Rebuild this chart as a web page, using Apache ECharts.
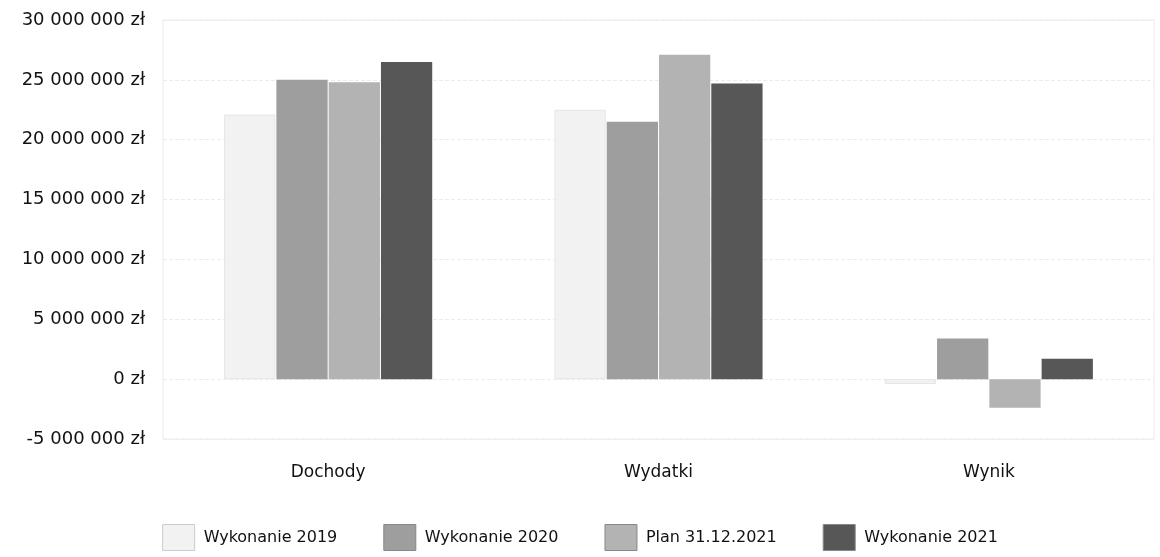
<!DOCTYPE html>
<html><head><meta charset="utf-8">
<script src="https://cdn.jsdelivr.net/npm/echarts@6/dist/echarts.min.js"></script>
<style>html,body{margin:0;padding:0;background:#fff}#c{width:1160px;height:557px}</style>
</head><body><div id="c"></div>
<script>
const categories = ["Dochody", "Wydatki", "Wynik"];
const seriesNames = ["Wykonanie 2019", "Wykonanie 2020", "Plan 31.12.2021", "Wykonanie 2021"];
const wyk2019 = [22100000, 22500000, -400000];
const wyk2020 = [25000000, 21500000, 3400000];
const plan2021 = [24800000, 27100000, -2400000];
const wyk2021 = [26500000, 24700000, 1700000];
const colors = ["#f2f2f2", "#9e9e9e", "#b3b3b3", "#575757"];

function fmt(v){
  const neg = v < 0;
  const s = String(Math.abs(Math.round(v))).replace(/\B(?=(\d{3})+(?!\d))/g, " ");
  return (neg ? "-" : "") + s + " zł";
}
const font = "DejaVu Sans";
const chart = echarts.init(document.getElementById("c"));
const data = [wyk2019, wyk2020, plan2021, wyk2021];
chart.setOption({
  animation:false,
  color: colors,
  grid:{left:163, right:6, top:20, bottom:118, show:true, borderColor:"#ececec", borderWidth:1},
  legend:{
    bottom:1, left:"center", itemWidth:32, itemHeight:26, itemGap:46, icon:"rect",
    textStyle:{fontFamily:font, fontSize:16, color:"#111", padding:[0,0,0,4]},
    data: seriesNames.map((n,i)=>({name:n, itemStyle:{borderColor: i===0 ? "#ccc" : "#888", borderWidth:1}}))
  },
  xAxis:{
    type:"category", data:categories,
    axisLine:{show:false}, axisTick:{show:false},
    axisLabel:{fontFamily:font, fontSize:17, color:"#111", margin:25}
  },
  yAxis:{
    type:"value", min:-5000000, max:30000000, interval:5000000,
    axisLine:{show:false}, axisTick:{show:false},
    splitLine:{lineStyle:{color:"#ececec", type:"dashed"}},
    axisLabel:{fontFamily:font, fontSize:18, color:"#111", margin:18, formatter:fmt}
  },
  series: seriesNames.map((n,i)=>({
    name:n, type:"bar", data:data[i], barGap:"2%", barCategoryGap:"37%",
    itemStyle:{color:colors[i], borderColor: i===0 ? "#e6e6e6" : "transparent", borderWidth: i===0 ? 1 : 0}
  }))
});
</script></body></html>
